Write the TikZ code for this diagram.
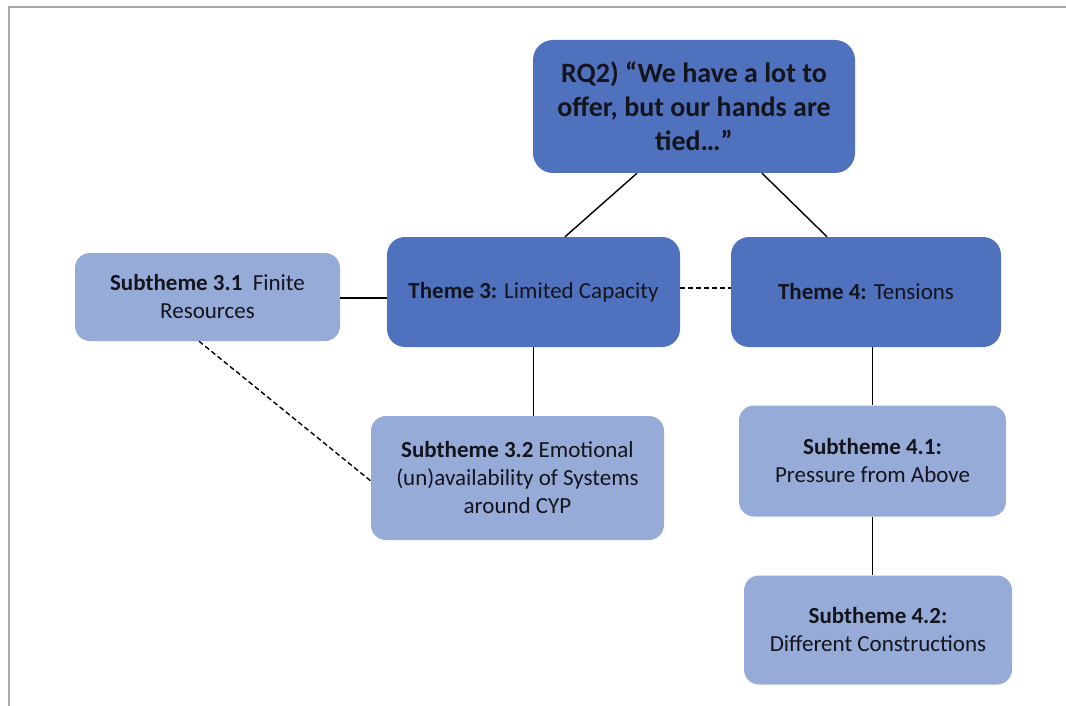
\documentclass[tikz,border=0pt]{standalone}
\usepackage{fontspec}
\setmainfont{Carlito}
\usetikzlibrary{calc}
\definecolor{themeblue}{RGB}{80,114,190}
\definecolor{subblue}{RGB}{150,171,216}
\definecolor{framegray}{RGB}{168,168,168}
\definecolor{inktext}{RGB}{20,20,28}
\begin{document}
\begin{tikzpicture}[x=1pt,y=-1pt,
  box/.style={rectangle, draw=none, align=center, inner sep=0pt, text=inktext,
    font=\fontsize{23}{28}\selectfont},
  rqbox/.style={box, fill=themeblue, rounded corners=20pt, font=\fontsize{28}{34}\selectfont\bfseries},
  themebox/.style={box, fill=themeblue, rounded corners=18pt},
  subbox/.style={box, fill=subblue, rounded corners=15pt},
  link/.style={draw=black, line width=1.4pt},
  dlink/.style={link, dash pattern=on 5pt off 3pt}]
\useasboundingbox (0,0) rectangle (1066,706);
% outer frame
\draw[framegray, line width=2.5pt] (9,707) -- (9,7) -- (1067,7);

\node[rqbox, minimum width=322pt, minimum height=133pt] (rq) at (694,106.5)
  {RQ2) “We have a lot to\\offer, but our hands are\\tied…”};
\node[themebox, minimum width=293pt, minimum height=110pt] (t3) at (533.5,292)
  {\textbf{Theme 3:} Limited Capacity};
\node[themebox, minimum width=270pt, minimum height=110pt] (t4) at (866,292)
  {\textbf{Theme 4:} Tensions};
\node[subbox, minimum width=265pt, minimum height=88pt] (s31) at (207.5,297)
  {\textbf{Subtheme 3.1}\ \ Finite\\Resources};
\node[subbox, minimum width=293pt, minimum height=124pt] (s32) at (517.5,478)
  {\textbf{Subtheme 3.2} Emotional\\(un)availability of Systems\\around CYP};
\node[subbox, minimum width=267pt, minimum height=111pt] (s41) at (872.5,461)
  {\textbf{Subtheme 4.1:}\\Pressure from Above};
\node[subbox, minimum width=268pt, minimum height=109pt] (s42) at (878,630)
  {\textbf{Subtheme 4.2:}\\Different Constructions};

% connectors
\draw[link] ([xshift=-57pt]rq.south) -- ([xshift=31.5pt]t3.north);
\draw[link] ([xshift=68pt]rq.south) -- ([xshift=-39pt]t4.north);
\draw[link] ([yshift=-1pt]s31.east) -- ([yshift=-1pt]s31.east -| t3.west);
\draw[dlink] ([yshift=4pt]t3.east) -- ([yshift=4pt]t4.west);
\draw[link] (t3.south) -- (t3.south |- s32.north);
\draw[dlink] ([xshift=-8.5pt]s31.south) -- ([yshift=-3pt]s32.west);
\draw[link] (s41.north |- t4.south) -- (s41.north);
\draw[link] (s41.south) -- (s41.south |- s42.north);
\end{tikzpicture}
\end{document}
